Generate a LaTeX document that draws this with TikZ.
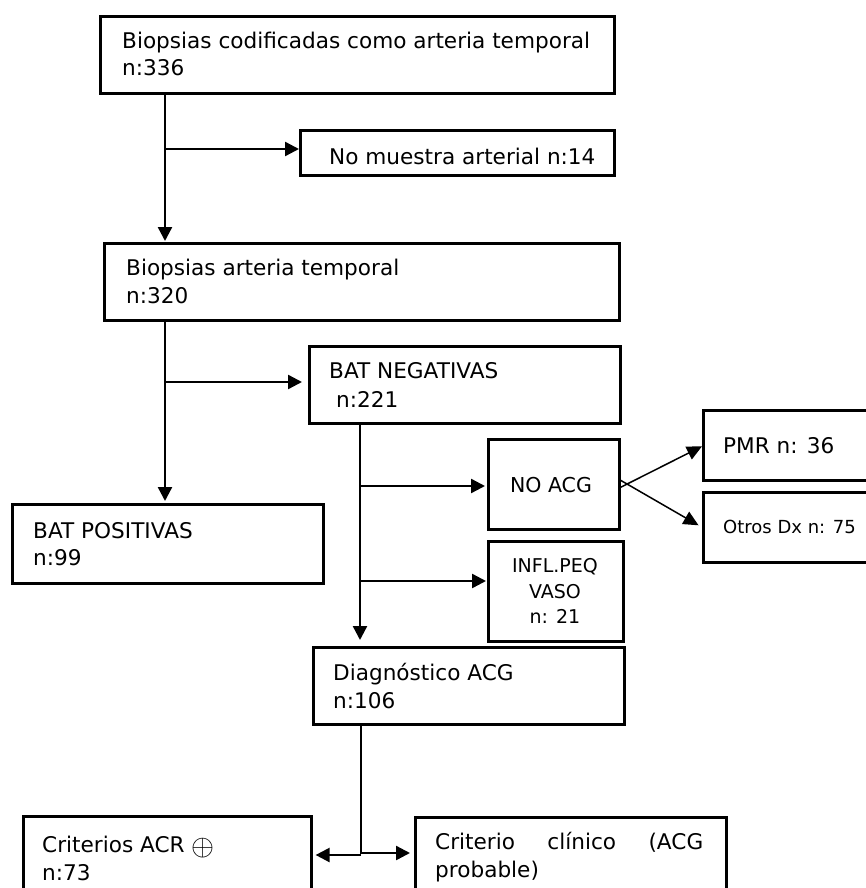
\documentclass[tikz,border=0pt]{standalone}
\usepackage{fontspec}
\setmainfont{DejaVu Sans}
\usetikzlibrary{arrows.meta}
\tikzset{
  boxnode/.style={draw=black, line width=2.6pt, inner sep=0pt, anchor=north west, fill=white},
  txt/.style={inner sep=0pt, anchor=base west, font=\fontsize{21.6}{27}\selectfont},
  ctxt/.style={inner sep=0pt, anchor=base, font=\fontsize{21.6}{27}\selectfont},
  conn/.style={line width=2.4pt, draw=black},
  arr/.style={conn, -{Triangle[length=14pt,width=14pt]}},
  thinarr/.style={line width=1.5pt, draw=black, -{Triangle[length=15pt,width=14pt]}}
}
\begin{document}
\begin{tikzpicture}[x=1pt,y=-1pt]
\useasboundingbox (0,0) rectangle (865,888);
\fill[white] (0,0) rectangle (865,888);

% boxes
\node[boxnode, minimum width=514, minimum height=77] (b1) at (99,15) {};
\node[boxnode, minimum width=314, minimum height=45] (nomu) at (299,129) {};
\node[boxnode, minimum width=515, minimum height=77] (b2) at (103,242) {};
\node[boxnode, minimum width=311, minimum height=77] (neg) at (308,345) {};
\node[boxnode, minimum width=311, minimum height=79] (pos) at (11,503) {};
\node[boxnode, minimum width=131, minimum height=90] (noacg) at (487,438) {};
\node[boxnode, minimum width=170, minimum height=70] (pmr) at (702,409) {};
\node[boxnode, minimum width=170, minimum height=70] (otros) at (702,491) {};
\node[boxnode, minimum width=135, minimum height=100] (infl) at (487,540) {};
\node[boxnode, minimum width=311, minimum height=77] (diag) at (312,646) {};
\node[boxnode, minimum width=288, minimum height=80] (acr) at (22,815) {};
\node[boxnode, minimum width=311, minimum height=80] (clin) at (414,816) {};

% texts
\node[txt] (t1a) at (122,49) {Biopsias codificadas como arteria temporal};
\node[txt] (t1b) at (122,76) {n:336};
\node[txt] (tnomu) at (329,164) {No muestra arterial n:14};
\node[txt] (t2a) at (126,275) {Biopsias arteria temporal};
\node[txt] (t2b) at (126,303) {n:320};
\node[txt] (tnega) at (329,378) {BAT NEGATIVAS};
\node[txt] (tnegb) at (336,407) {n:221};
\node[txt] (tposa) at (33,538) {BAT POSITIVAS};
\node[txt] (tposb) at (33,565) {n:99};
\node[ctxt, font=\fontsize{20.5}{25}\selectfont] (tnoacg) at (551,492) {NO ACG};
\node[txt] (tpmr) at (723,453) {PMR n: 36};
\node[txt, font=\fontsize{18}{22}\selectfont] (totros) at (723,533) {Otros Dx n: 75};
\node[ctxt, font=\fontsize{19}{25}\selectfont] (tinfla) at (555,572) {INFL.PEQ};
\node[ctxt, font=\fontsize{19}{25}\selectfont] (tinflb) at (555,598) {VASO};
\node[ctxt, font=\fontsize{19}{25}\selectfont] (tinflc) at (555,623) {n: 21};
\node[txt] (tdiaga) at (333,680) {Diagnóstico ACG};
\node[txt] (tdiagb) at (333,708) {n:106};
\node[txt] (tacra) at (42,852) {Criterios ACR \raisebox{-3pt}{\resizebox{23pt}{!}{$\oplus$}}};
\node[txt] (tacrb) at (42,880) {n:73};
\node[txt] (tclina) at (435,849) {\makebox[268pt][s]{Criterio clínico (ACG}};
\node[txt] (tclinb) at (435,877) {probable)};

% junction coordinates
\coordinate (j1) at (165,149);
\coordinate (j2) at (165,382);
\coordinate (j3a) at (360,486);
\coordinate (j3b) at (360,581);
\coordinate (j4) at (361,854);

% connectors
\draw[arr, shorten >=1pt] (b1.south -| j1) -- (b2.north -| j1);
\draw[arr] (j1) -- (j1 -| nomu.west);
\draw[arr, shorten >=2pt] (b2.south -| j2) -- (pos.north -| j2);
\draw[arr, shorten >=6pt] (j2) -- (j2 -| neg.west);
\draw[arr, shorten >=6pt] (neg.south -| j3a) -- (diag.north -| j3a);
\draw[arr, shorten >=2pt] (j3a) -- (j3a -| noacg.west);
\draw[arr, shorten >=1pt] (j3b) -- (j3b -| infl.west);
\draw[conn] (diag.south -| j4) -- (j4);
\draw[arr, shorten >=3pt] ([yshift=-1pt]j4) -- ([yshift=-1pt]j4 -| acr.east);
\draw[arr, shorten >=4pt] ([yshift=1pt]j4) -- ([yshift=1pt]j4 -| clin.west);
\draw[thinarr] ([yshift=-3pt]noacg.east) -- ([yshift=-1pt]pmr.west);
\draw[thinarr, shorten >=4pt] ([yshift=4pt]noacg.east) -- (otros.west);
\end{tikzpicture}
\end{document}
